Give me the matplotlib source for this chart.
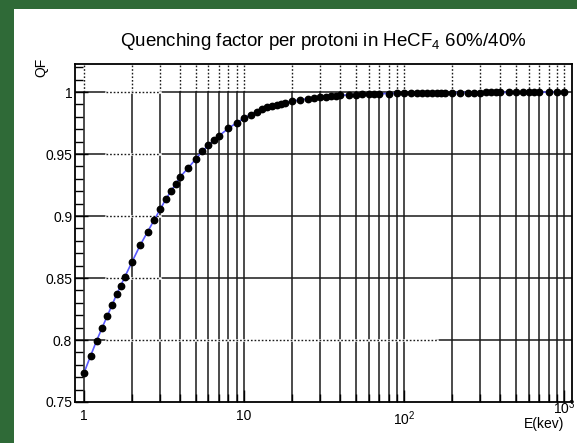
import numpy as np
import matplotlib
matplotlib.use('Agg')
import matplotlib.pyplot as plt
from matplotlib.patches import Rectangle
from matplotlib.ticker import FixedLocator, NullFormatter
from matplotlib.transforms import blended_transform_factory

plt.rcParams['font.family'] = ['Liberation Sans', 'DejaVu Sans']
plt.rcParams['mathtext.fontset'] = 'custom'
plt.rcParams['mathtext.rm'] = 'Liberation Sans'

# energy grid (keV) and quenching factor
energy = [1.0, 1.1, 1.2, 1.3, 1.4, 1.5, 1.6, 1.7, 1.8, 2.0, 2.25, 2.5, 2.75,
          3.0, 3.25, 3.5, 3.75, 4.0, 4.5, 5.0, 5.5, 6.0, 6.5, 7.0, 8.0, 9.0,
          10, 11, 12, 13, 14, 15, 16, 17, 18, 20, 22.5, 25, 27.5, 30, 32.5,
          35, 37.5, 40, 45, 50, 55, 60, 65, 70, 80, 90, 100, 110, 120, 130,
          140, 150, 160, 170, 180, 200, 225, 250, 275, 300, 325, 350, 375,
          400, 450, 500, 550, 600, 650, 700, 800, 900, 1000]
qf = [0.7732, 0.7871, 0.7993, 0.8099, 0.8194, 0.8282, 0.8367, 0.8438, 0.8508,
      0.8631, 0.8766, 0.8873, 0.8968, 0.9056, 0.9135, 0.9202, 0.9258, 0.9317,
      0.9390, 0.9460, 0.9524, 0.9570, 0.9612, 0.9648, 0.9707, 0.9752,
      0.9788, 0.9818, 0.9842, 0.9862, 0.9877, 0.9889, 0.9899, 0.9907, 0.9914,
      0.9926, 0.9937, 0.9946, 0.9953, 0.9959, 0.9963, 0.9967, 0.9970, 0.9973,
      0.9977, 0.9980, 0.9982, 0.9984, 0.9985, 0.9986, 0.9988, 0.9989, 0.9990,
      0.9991, 0.9992, 0.9992, 0.9993, 0.9993, 0.9994, 0.9994, 0.9994, 0.9995,
      0.9995, 0.9996, 0.9996, 0.9996, 0.9997, 0.9997, 0.9997, 0.9997, 0.9998,
      0.9998, 0.9998, 0.9998, 0.9998, 0.9999, 0.9999, 0.9999, 0.9999]

xtick_vals = [1, 10, 100, 1000]
xtick_text = ['1', '10', '$10^{2}$', '']
ytick_vals = [0.75, 0.8, 0.85, 0.9, 0.95, 1.0]
ytick_text = ['0.75', '0.8', '0.85', '0.9', '0.95', '1']
xgrid_vals = [m * 10.0 ** d for d in range(3) for m in range(1, 10)] + [1000]

W, H = 577, 443
fig = plt.figure(figsize=(W / 100, H / 100), dpi=100)
fig.patch.set_facecolor('#2f6a37')
# white panel inside the green border
fig.patches.append(Rectangle((14 / W, 0), 1, 1 - 9 / H, transform=fig.transFigure,
                             facecolor='white', edgecolor='none', zorder=-5))

ax = fig.add_axes([75 / W, 1 - 402 / H, (572 - 75) / W, (402 - 64) / H])
ax.set_zorder(2)
ax.set_xscale('log')
ax.set_xlim(0.88, 1120)
ax.set_ylim(0.75, 1.0226)

ax.xaxis.set_major_locator(FixedLocator(xtick_vals))
ax.xaxis.set_minor_locator(FixedLocator(xgrid_vals))
ax.xaxis.set_minor_formatter(NullFormatter())
ax.set_xticks(xtick_vals, xtick_text)
ax.set_yticks(ytick_vals, ytick_text)
ax.yaxis.set_minor_locator(FixedLocator(np.arange(0.75, 1.025, 0.01)))

# grid: solid lines with the dotted stretches seen in the original
gc = '#1a1a1a'
dot = (0, (1.2, 1.4))
ytop = ax.get_ylim()[1]
for xv in xgrid_vals:
    ax.plot([xv, xv], [0.75, 1.0], color=gc, lw=1.1, zorder=1)
    ax.plot([xv, xv], [1.0, ytop], color=gc, lw=1.0, ls=dot, zorder=1)
for yv in ytick_vals[1:]:
    xd = (1.37, 3.0) if yv > 0.8 else (1.37, 160)
    ax.plot([0.88, xd[0]], [yv, yv], color=gc, lw=1.1, zorder=1)
    ax.plot([xd[0], xd[1]], [yv, yv], color='white', lw=1.8, zorder=1.5)
    ax.plot([xd[0], xd[1]], [yv, yv], color=gc, lw=1.0, ls=dot, zorder=1.6)
    ax.plot([xd[1], 1120], [yv, yv], color=gc, lw=1.1, zorder=1)

ax.tick_params(which='both', direction='in', top=False, right=False,
               labelsize=10, colors='black', width=1)
ax.tick_params(axis='y', which='major', length=9, pad=2)
ax.tick_params(axis='y', which='minor', length=6)
ax.tick_params(axis='x', which='major', length=9, pad=5)
ax.tick_params(axis='x', which='minor', length=6)
for s in ax.spines.values():
    s.set_linewidth(1.3)
    s.set_color('black')

ax.plot(energy, qf, color='#5a5aff', lw=1.2, zorder=3)
ax.plot(energy, qf, 'o', color='black', ms=4.6, zorder=4, clip_on=False)

# last decade label sits a little higher, as in the original
trans = blended_transform_factory(ax.transData, ax.transAxes)
ax.text(1000, 0.012, '$10^{3}$', transform=trans, ha='center', va='top', fontsize=10)

fig.text(323 / W, 1 - 42 / H, 'Quenching factor per protoni in HeCF$_{4}$ 60%/40%',
         ha='center', va='center', fontsize=13.5)
fig.text(41 / W, 1 - 58 / H, 'QF', rotation=90, ha='center', va='top', fontsize=10)
fig.text(564 / W, 1 - 428 / H, 'E(kev)', ha='right', va='baseline', fontsize=10)

fig.savefig('out.png', dpi=100, facecolor=fig.get_facecolor())
